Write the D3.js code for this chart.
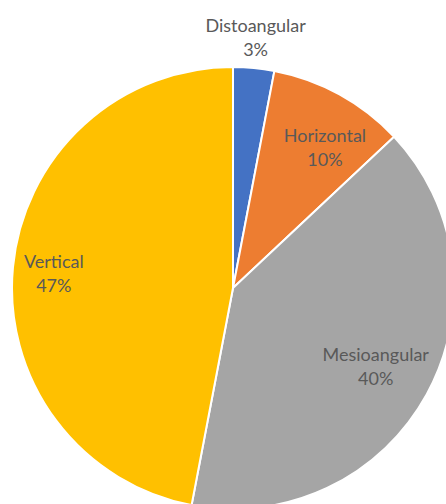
<!DOCTYPE html>
<html>
<head>
<meta charset="utf-8">
<script src="https://cdn.jsdelivr.net/npm/d3@7/dist/d3.min.js"></script>
<style>
  html, body { margin: 0; padding: 0; background: #fff; }
  svg { display: block; }
</style>
</head>
<body>
<script>
// Angulation categories and their share (%)
const categories = ["Distoangular", "Horizontal", "Mesioangular", "Vertical"];
const values = [3, 10, 40, 47];
const colors = ["#4472C4", "#ED7D31", "#A5A5A5", "#FFC000"];

const width = 446, height = 504;
const cx = 233, cy = 288, radius = 221;

const svg = d3.select("body").append("svg")
  .attr("width", width).attr("height", height);

const pie = d3.pie().sort(null).value(d => d.value);
const data = categories.map((c, i) => ({ name: c, value: values[i], color: colors[i] }));
const arcs = pie(data);

const arc = d3.arc().innerRadius(0).outerRadius(radius);

const g = svg.append("g").attr("transform", `translate(${cx},${cy})`);

g.selectAll("path.slice")
  .data(arcs)
  .join("path")
  .attr("class", "slice")
  .attr("d", arc)
  .attr("fill", d => d.data.color)
  .attr("stroke", "#fff")
  .attr("stroke-width", 2)
  .attr("stroke-linejoin", "round");

// Label placement: radius from centre and a small nudge for narrow slices
const labelRadius = { Distoangular: 251, Horizontal: 168, Mesioangular: 164, Vertical: 179 };
const nudge = { Distoangular: [-1, -3], Horizontal: [11, 4], Mesioangular: [-1, -3], Vertical: [-1, 0] };

const labels = g.selectAll("text.label")
  .data(arcs)
  .join("text")
  .attr("class", "label")
  .attr("text-anchor", "middle")
  .attr("font-family", "Lato, 'Open Sans', sans-serif")
  .attr("font-size", 18)
  .attr("fill", "#595959")
  .attr("transform", d => {
    const a = (d.startAngle + d.endAngle) / 2;
    const r = labelRadius[d.data.name];
    const [dx, dy] = nudge[d.data.name];
    return `translate(${Math.sin(a) * r + dx},${-Math.cos(a) * r + dy})`;
  });

labels.append("tspan")
  .attr("x", 0).attr("dy", -3)
  .text(d => d.data.name);
labels.append("tspan")
  .attr("x", 0).attr("dy", 24)
  .text(d => d.data.value + "%");
</script>
</body>
</html>
